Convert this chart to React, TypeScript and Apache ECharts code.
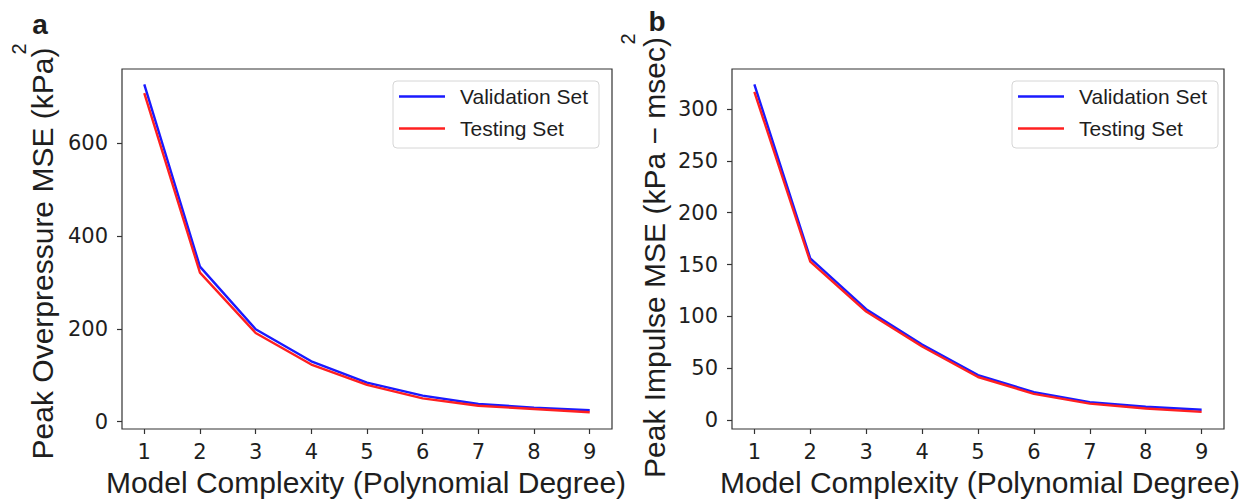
import React, { useEffect, useRef } from 'react';
import * as echarts from 'echarts';

const degrees = [1, 2, 3, 4, 5, 6, 7, 8, 9];
const overpressureValidation = [727, 334, 199, 130, 84, 56, 38, 30, 24.5];
const overpressureTesting = [708, 321, 191, 123, 79, 50, 34, 27, 20];
const impulseValidation = [323.7, 156, 107, 73, 43.5, 27, 17.4, 12.9, 10];
const impulseTesting = [316.5, 152.8, 104.7, 71, 41.6, 25.4, 16, 11.3, 8];
const overpressureTicks = [0, 200, 400, 600];
const impulseTicks = [0, 50, 100, 150, 200, 250, 300];
const seriesNames = ['Validation Set', 'Testing Set'];
const xTitle = 'Model Complexity (Polynomial Degree)';
const yTitleA = 'Peak Overpressure MSE (kPa)';
const yTitleB = 'Peak Impulse MSE (kPa \u2212 msec)';

const BLUE = '#1a1aff';
const RED = '#ff2020';
const INK = '#1e1e1e';
const FRAME = '#333333';
const TICK_FONT = 'DejaVu Sans';
const TITLE_FONT = 'Liberation Sans';

function pairs(xs: number[], ys: number[]) {
  return xs.map((x, i) => [x, ys[i]]);
}

function xAxisCfg(gridIndex: number) {
  return {
    type: 'value',
    gridIndex,
    min: 0.6,
    max: 9.4,
    splitLine: { show: false },
    axisLine: { show: false, onZero: false },
    axisTick: { show: true, length: 5, lineStyle: { color: FRAME, width: 1.2 }, customValues: degrees },
    axisLabel: {
      customValues: degrees,
      margin: 12,
      fontSize: 21,
      fontFamily: TICK_FONT,
      color: INK,
    },
  };
}

function yAxisCfg(gridIndex: number, min: number, max: number, ticks: number[]) {
  return {
    type: 'value',
    gridIndex,
    min,
    max,
    splitLine: { show: false },
    axisLine: { show: false, onZero: false },
    axisTick: { show: true, length: 5, lineStyle: { color: FRAME, width: 1.2 }, customValues: ticks },
    axisLabel: {
      customValues: ticks,
      margin: 14,
      fontSize: 21,
      fontFamily: TICK_FONT,
      color: INK,
    },
  };
}

function legendCfg(left: number) {
  return {
    orient: 'vertical',
    left,
    top: 81,
    data: seriesNames.map((n) => ({ name: n, icon: 'rect' })),
    itemWidth: 46,
    itemHeight: 2.5,
    itemGap: 11,
    padding: [5, 11, 9, 6],
    borderColor: '#d6d6d6',
    borderWidth: 1,
    borderRadius: 4,
    backgroundColor: 'rgba(255,255,255,0.85)',
    textStyle: { fontSize: 21, fontFamily: TITLE_FONT, color: INK, padding: [0, 0, 0, 10] },
    selectedMode: false,
  };
}

function lineSeries(name: string, color: string, xi: number, data: number[][]) {
  return {
    type: 'line',
    name,
    xAxisIndex: xi,
    yAxisIndex: xi,
    data,
    symbol: 'none',
    lineStyle: { color, width: 2.4 },
    itemStyle: { color },
    z: name === seriesNames[1] ? 3 : 2,
  };
}

function textEl(text: string, x: number, y: number, size: number, opts: any = {}) {
  return {
    type: 'text',
    x,
    y,
    rotation: opts.rotation || 0,
    style: {
      text,
      font: `${opts.bold ? 'bold ' : ''}${size}px "${TITLE_FONT}"`,
      fill: INK,
      textAlign: opts.align || 'center',
      textVerticalAlign: opts.valign || 'middle',
    },
  };
}

export default function App() {
  const ref = useRef<HTMLDivElement>(null);
  useEffect(() => {
    const chart = echarts.init(ref.current!, null, { renderer: 'svg' });
    const option: any = {
      animation: false,
      backgroundColor: '#ffffff',
      grid: [
        { left: 122, top: 69, width: 490, height: 360, show: true, borderColor: FRAME, borderWidth: 1.2, containLabel: false },
        { left: 732, top: 69, width: 492, height: 360, show: true, borderColor: FRAME, borderWidth: 1.2, containLabel: false },
      ],
      xAxis: [xAxisCfg(0), xAxisCfg(1)],
      yAxis: [
        yAxisCfg(0, -16, 760, overpressureTicks),
        yAxisCfg(1, -8.5, 338.5, impulseTicks),
      ],
      legend: [legendCfg(393), legendCfg(1012)],
      series: [
        lineSeries(seriesNames[0], BLUE, 0, pairs(degrees, overpressureValidation)),
        lineSeries(seriesNames[1], RED, 0, pairs(degrees, overpressureTesting)),
        lineSeries(seriesNames[0], BLUE, 1, pairs(degrees, impulseValidation)),
        lineSeries(seriesNames[1], RED, 1, pairs(degrees, impulseTesting)),
      ],
      graphic: [
        textEl(xTitle, 366, 482, 30),
        textEl(xTitle, 980, 482, 30),
        textEl(yTitleA, 42, 253.5, 30, { rotation: Math.PI / 2 }),
        textEl('2', 18.5, 49, 20, { rotation: Math.PI / 2 }),
        textEl(yTitleB, 654, 257.5, 30, { rotation: Math.PI / 2 }),
        textEl('2', 627.5, 39, 20, { rotation: Math.PI / 2 }),
        textEl('a', 40, 24, 28, { bold: true }),
        textEl('b', 657, 21, 28, { bold: true }),
      ],
    };
    chart.setOption(option);
    return () => chart.dispose();
  }, []);
  return (
    <div
      ref={ref}
      style={{ position: 'absolute', left: 0, top: 0, width: 1244, height: 501 }}
    />
  );
}
